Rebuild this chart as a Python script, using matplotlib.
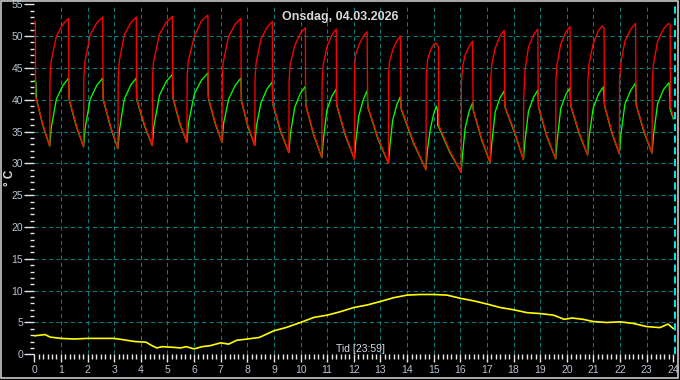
import matplotlib
matplotlib.use('Agg')
import matplotlib.pyplot as plt
from matplotlib.ticker import MultipleLocator
from matplotlib.patches import Rectangle

# flow / return temperatures (hours, degC)
red_t = [
    0.00, 0.04, 0.05, 0.31,
    0.58, 0.59, 0.63, 0.83, 1.08, 1.29, 1.30, 1.57,
    1.85, 1.86, 1.90, 2.10, 2.35, 2.57, 2.58, 2.86,
    3.14, 3.15, 3.19, 3.38, 3.62, 3.83, 3.84, 4.13,
    4.43, 4.44, 4.48, 4.70, 4.96, 5.19, 5.20, 5.46,
    5.73, 5.74, 5.78, 6.01, 6.28, 6.52, 6.53, 6.79,
    7.05, 7.06, 7.10, 7.30, 7.55, 7.76, 7.77, 8.02,
    8.28, 8.29, 8.33, 8.51, 8.74, 8.94, 8.95, 9.25,
    9.56, 9.57, 9.61, 9.78, 9.99, 10.18, 10.19, 10.49,
    10.80, 10.81, 10.85, 10.99, 11.18, 11.34, 11.35, 11.68,
    12.02, 12.03, 12.06, 12.19, 12.36, 12.50, 12.52, 12.91,
    13.30, 13.31, 13.34, 13.46, 13.62, 13.75, 13.77, 14.24,
    14.71, 14.72, 14.77, 14.88, 15.00, 15.08, 15.18, 15.19, 15.61,
    16.03, 16.04, 16.09, 16.18, 16.33, 16.46, 16.48, 16.80,
    17.12, 17.13, 17.18, 17.31, 17.49, 17.65, 17.67, 18.02,
    18.37, 18.38, 18.43, 18.56, 18.75, 18.91, 18.93, 19.25,
    19.58, 19.59, 19.63, 19.77, 19.96, 20.12, 20.14, 20.46,
    20.78, 20.79, 20.83, 20.99, 21.19, 21.33, 21.40, 21.41, 21.69,
    21.97, 21.98, 22.02, 22.18, 22.40, 22.58, 22.60, 22.90,
    23.20, 23.21, 23.25, 23.41, 23.63, 23.82, 23.88, 23.89, 24.00,
]
red_v = [
    52.3, 52.2, 40.5, 36.3,
    32.7, 43.6, 46.0, 50.0, 51.9, 52.8, 40.3, 36.1,
    32.6, 43.5, 46.0, 50.2, 52.1, 53.0, 40.3, 35.9,
    32.3, 43.5, 46.0, 50.2, 52.1, 53.0, 40.3, 36.2,
    32.8, 43.5, 46.0, 50.3, 52.2, 53.1, 40.5, 36.5,
    33.3, 43.8, 46.0, 50.0, 52.4, 53.3, 40.5, 36.5,
    33.3, 43.5, 46.0, 50.0, 51.9, 52.8, 40.0, 36.0,
    32.8, 43.3, 45.8, 49.5, 51.4, 52.3, 39.5, 35.2,
    31.7, 43.0, 45.5, 48.5, 50.4, 51.3, 39.3, 34.7,
    30.9, 43.0, 45.5, 48.3, 50.2, 51.1, 39.3, 34.6,
    30.7, 45.0, 47.0, 48.6, 50.0, 50.7, 39.0, 34.0,
    30.0, 44.5, 46.0, 47.8, 49.3, 50.0, 38.8, 33.4,
    29.0, 43.8, 46.3, 47.8, 48.7, 48.9, 48.3, 36.0, 31.9,
    28.6, 42.6, 45.3, 47.0, 48.4, 49.2, 38.5, 33.9,
    30.1, 42.5, 45.5, 48.1, 50.0, 50.9, 39.0, 35.2,
    30.6, 40.0, 44.7, 48.3, 50.2, 51.1, 39.0, 34.4,
    30.7, 43.0, 45.5, 48.7, 50.6, 51.5, 39.2, 34.9,
    31.3, 43.0, 45.5, 48.8, 50.9, 51.6, 51.2, 39.2, 35.0,
    31.5, 43.0, 45.5, 49.2, 51.1, 52.0, 39.3, 35.1,
    31.6, 43.0, 45.5, 49.2, 51.1, 52.0, 51.8, 39.0, 37.3,
]

green_t = [
    0.00, 0.06, 0.08, 0.31,
    0.58, 0.64, 0.83, 1.08, 1.29, 1.31, 1.57,
    1.85, 1.91, 2.10, 2.35, 2.57, 2.59, 2.86,
    3.14, 3.20, 3.38, 3.62, 3.83, 3.85, 4.13,
    4.43, 4.49, 4.70, 4.96, 5.19, 5.21, 5.46,
    5.73, 5.79, 6.01, 6.28, 6.52, 6.54, 6.79,
    7.05, 7.11, 7.30, 7.55, 7.76, 7.78, 8.02,
    8.28, 8.34, 8.51, 8.74, 8.94, 8.96, 9.25,
    9.56, 9.62, 9.78, 9.99, 10.18, 10.20, 10.49,
    10.80, 10.86, 10.99, 11.18, 11.34, 11.36, 11.68,
    12.02, 12.08, 12.19, 12.36, 12.50, 12.53, 12.91,
    13.30, 13.36, 13.46, 13.62, 13.75, 13.78, 14.24,
    14.71, 14.76, 14.88, 15.00, 15.10, 15.15, 15.16, 15.17, 15.19, 15.61,
    16.03, 16.09, 16.18, 16.33, 16.46, 16.49, 16.80,
    17.12, 17.18, 17.31, 17.49, 17.65, 17.68, 18.02,
    18.37, 18.43, 18.56, 18.75, 18.91, 18.94, 19.25,
    19.58, 19.64, 19.77, 19.96, 20.12, 20.15, 20.46,
    20.78, 20.84, 20.99, 21.19, 21.37, 21.42, 21.69,
    21.97, 22.03, 22.18, 22.40, 22.58, 22.61, 22.90,
    23.20, 23.26, 23.41, 23.63, 23.84, 23.87, 23.88, 24.00,
]
green_v = [
    43.0, 42.8, 40.2, 36.1,
    32.7, 35.7, 40.1, 42.3, 43.4, 40.0, 35.9,
    32.6, 35.6, 40.1, 42.3, 43.4, 40.0, 35.7,
    32.3, 35.3, 40.1, 42.3, 43.4, 40.0, 36.0,
    32.8, 35.8, 40.7, 42.9, 44.0, 40.2, 36.3,
    33.3, 36.3, 40.9, 43.1, 44.2, 40.2, 36.3,
    33.3, 36.3, 40.1, 42.3, 43.4, 39.8, 35.8,
    32.8, 35.8, 39.5, 41.7, 42.8, 39.3, 35.0,
    31.7, 34.7, 38.8, 41.0, 42.1, 39.1, 34.5,
    30.9, 33.9, 38.4, 40.6, 41.7, 39.1, 34.4,
    30.7, 33.7, 37.5, 40.1, 41.4, 38.8, 33.8,
    30.0, 33.0, 36.8, 39.3, 40.5, 38.5, 33.2,
    29.0, 32.0, 35.5, 37.8, 39.0, 38.2, 35.9, 37.5, 35.7, 31.7,
    28.6, 31.6, 35.5, 38.2, 39.5, 38.3, 33.7,
    30.1, 33.1, 38.1, 40.3, 41.4, 38.8, 35.0,
    30.6, 33.6, 38.2, 40.4, 41.5, 38.8, 34.2,
    30.7, 33.7, 38.6, 40.8, 41.9, 39.0, 34.7,
    31.3, 34.3, 38.7, 40.9, 42.0, 39.0, 34.8,
    31.5, 34.5, 39.3, 41.5, 42.6, 39.1, 34.9,
    31.6, 34.6, 39.4, 41.6, 42.7, 40.2, 38.5, 37.0,
]

# outdoor temperature
out_t = [0.0, 0.4, 0.6, 1.0, 1.5, 2.0, 2.5, 3.0, 3.4, 3.8, 4.2, 4.4, 4.6, 4.8,
         5.2, 5.5, 5.7, 6.0, 6.3, 6.6, 7.0, 7.3, 7.6, 8.0, 8.45, 9.0, 9.45,
         10.0, 10.5, 11.0, 11.5, 12.0, 12.5, 13.0, 13.5, 14.0, 14.5, 15.0,
         15.5, 16.0, 16.5, 17.0, 17.5, 18.0, 18.5, 19.0, 19.5, 19.9, 20.2,
         20.6, 21.0, 21.5, 22.0, 22.5, 23.0, 23.5, 23.8, 24.0]
out_v = [2.9, 3.1, 2.7, 2.5, 2.4, 2.5, 2.5, 2.5, 2.25, 2.0, 1.9, 1.4, 1.0, 1.2,
         1.1, 1.0, 1.2, 0.85, 1.2, 1.35, 1.8, 1.6, 2.2, 2.4, 2.65, 3.7, 4.2,
         5.0, 5.8, 6.15, 6.7, 7.35, 7.75, 8.3, 8.9, 9.3, 9.4, 9.4,
         9.3, 8.8, 8.4, 7.9, 7.35, 7.0, 6.55, 6.4, 6.15, 5.5, 5.7,
         5.5, 5.15, 5.0, 5.1, 4.85, 4.35, 4.2, 4.75, 4.05]

hour_ticks = list(range(25))
temp_ticks = list(range(0, 60, 5))

plt.rcParams['font.family'] = ['Liberation Sans', 'DejaVu Sans']

fig = plt.figure(figsize=(6.8, 3.8), dpi=100, facecolor='black')
ax = fig.add_axes([34.3 / 680, 25.7 / 380, 641.7 / 680, 350 / 380])
ax.set_facecolor('black')
ax.set_xlim(0, 24.1)
ax.set_ylim(0, 55)

grid_kw = dict(color='#008080', lw=0.75, ls=(0, (4, 3)), zorder=1)
for h in hour_ticks[1:-1]:
    ax.axvline(h, **grid_kw)
for v in temp_ticks[1:-1]:
    ax.axhline(v, **grid_kw)
ax.axvline(24.05, color='#00ffff', lw=1.3, ls=(0, (4, 2.5)), zorder=2)

ax.plot(out_t, out_v, color='#ffff00', lw=1.2, zorder=3)
ax.plot(green_t, green_v, color='#00ff00', lw=0.95, zorder=4)
ax.plot(red_t, red_v, color='#ff0000', lw=0.95, zorder=5)

for s in ax.spines.values():
    s.set_visible(False)

ax.set_xticks(hour_ticks)
ax.set_xticklabels([str(h) for h in hour_ticks])
ax.xaxis.set_minor_locator(MultipleLocator(1 / 6))
ax.set_yticks(temp_ticks)
ax.set_yticklabels([str(v) for v in temp_ticks])
ax.yaxis.set_minor_locator(MultipleLocator(1))

lab_col = '#b8c4d4'
ax.tick_params(axis='x', which='major', length=6, width=1, color='#e8e8e8',
               pad=2, labelsize=7.5, labelcolor=lab_col)
ax.tick_params(axis='x', which='minor', length=3.5, width=1, color='#e8e8e8')
ax.tick_params(axis='y', which='major', length=7, width=1, color='#e8e8e8',
               pad=1, labelsize=7.5, labelcolor=lab_col)
ax.tick_params(axis='y', which='minor', length=3, width=1, color='#e8e8e8')

fig.text(0.5, 1 - 17 / 380, 'Onsdag, 04.03.2026', ha='center', va='center',
         fontsize=9, fontweight='bold', color='#d8d8d8')
fig.text(360 / 680, 1 - 349 / 380, 'Tid [23:59]', ha='center', va='center',
         fontsize=7.5, color='#d8dce4')
fig.text(10 / 680, 1 - 178 / 380, '° C', ha='center', va='center',
         rotation=90, fontsize=8.5, fontweight='bold', color='#d8dce4')

fig.patches.append(Rectangle((1 / 680, 2.5 / 380), 677 / 680, 376.5 / 380,
                             transform=fig.transFigure, fill=False,
                             edgecolor='#c8c8c8', lw=1.2))

fig.savefig('out.png', dpi=100, facecolor='black')
